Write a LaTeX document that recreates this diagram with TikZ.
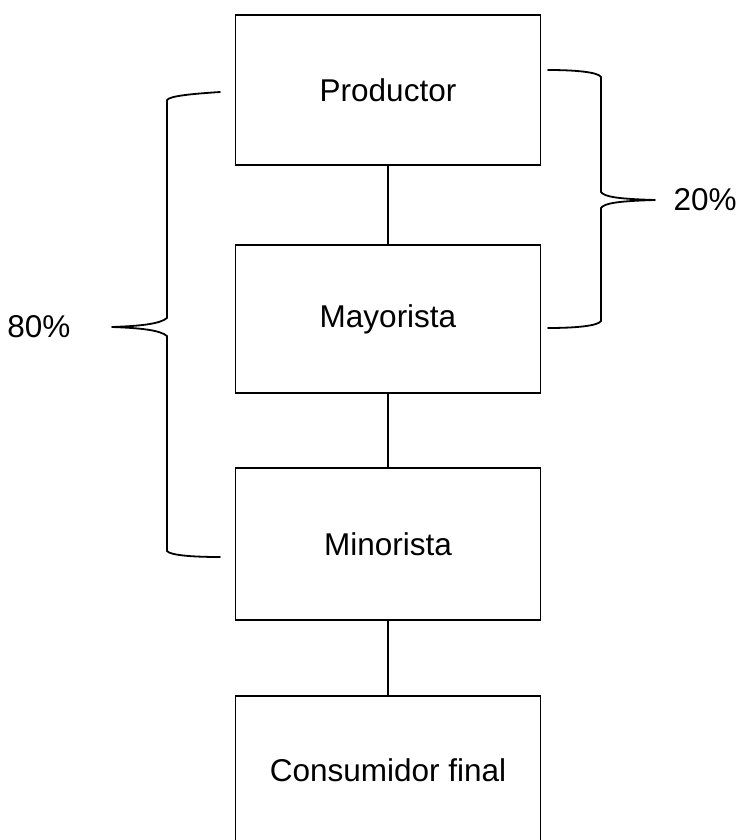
\documentclass[tikz,border=0pt]{standalone}
\usepackage{fontspec}
\setmainfont{Liberation Sans}
\begin{document}
\begin{tikzpicture}[x=1pt,y=-1pt,
  stagebox/.style={draw, line width=1.6pt, rectangle, minimum width=305pt, inner sep=0pt, font=\fontsize{31.5}{36}\selectfont},
  link/.style={line width=1.6pt},
  bracepath/.style={line width=1.8pt, line join=round, line cap=round},
  pct/.style={font=\fontsize{31.5}{36}\selectfont}]
\useasboundingbox (0,0) rectangle (738,840);
\node[stagebox, minimum height=150pt] (p) at (388,90) {Productor};
\node[stagebox, minimum height=148pt] (m) at (388,319) {Mayorista};
\node[stagebox, minimum height=152pt] (n) at (388,544) {Minorista};
\node[stagebox, minimum height=152pt, anchor=north] (c) at (388,695) {};
\node[font=\fontsize{31.5}{36}\selectfont] (ct) at (388,770) {Consumidor final};
\draw[link] (p.south) -- (m.north);
\draw[link] (m.south) -- (n.north);
\draw[link] (n.south) -- (c.north);
% left brace
\coordinate (lt) at (220,92);
\coordinate (ltip) at (112,327);
\coordinate (lb) at (220,557);
\draw[bracepath] (lt) .. controls (190,94) and (170,96) .. (167,100)
  -- (167,318) .. controls (160,324) and (140,326) .. (ltip)
  .. controls (140,328) and (160,330) .. (167,336)
  -- (167,551) .. controls (170,555) and (190,557) .. (lb);
\node[pct, anchor=east] (l80) at (74,327) {80\%};
% right brace
\coordinate (rt) at (548,70);
\coordinate (rtip) at (655,200);
\coordinate (rb) at (548,328);
\draw[bracepath] (rt) .. controls (575,70) and (598,72) .. (601,77)
  -- (601,192) .. controls (604,197) and (620,199) .. (rtip)
  .. controls (620,201) and (604,203) .. (601,208)
  -- (601,321) .. controls (598,326) and (575,328) .. (rb);
\node[pct, anchor=west] (r20) at (670,200) {20\%};
\end{tikzpicture}
\end{document}
